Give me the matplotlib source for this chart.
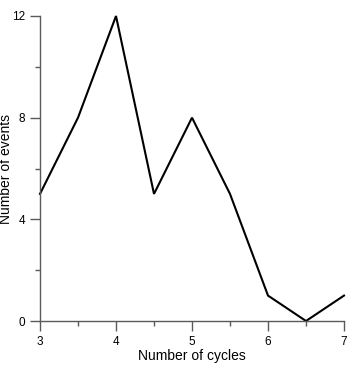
import matplotlib
matplotlib.use("Agg")
import matplotlib.pyplot as plt
from matplotlib.ticker import MultipleLocator

cycles = [3, 3.5, 4, 4.5, 5, 5.5, 6, 6.5, 7]
events = [5, 8, 12, 5, 8, 5, 1, 0, 1]

plt.rcParams['font.family'] = ['Liberation Sans', 'DejaVu Sans']

fig = plt.figure(figsize=(3.49, 3.65), dpi=100)
ax = fig.add_axes([40/349, 44/365, 304/349, 305/365])
ax.plot(cycles, events, color='black', lw=1.5, clip_on=False, solid_joinstyle='miter')
ax.set_xlim(3, 7)
ax.set_ylim(0, 12)
ax.xaxis.set_major_locator(MultipleLocator(1))
ax.xaxis.set_minor_locator(MultipleLocator(0.5))
ax.yaxis.set_major_locator(MultipleLocator(4))
ax.yaxis.set_minor_locator(MultipleLocator(2))
for s in ['top', 'right']:
    ax.spines[s].set_visible(False)
gray = '#5a5a5a'
for s in ['left', 'bottom']:
    ax.spines[s].set_color(gray)
    ax.spines[s].set_linewidth(1.0)
ax.tick_params(which='major', length=7, width=1.0, color=gray, labelsize=8.5, pad=3.5)
ax.tick_params(which='minor', length=3.5, width=1.0, color=gray)
ax.set_xlabel('Number of cycles', fontsize=10, labelpad=1)
ax.set_ylabel('Number of events', fontsize=10)
ax.yaxis.set_label_coords(-0.088, 0.5)
fig.savefig('out.png', dpi=100)
